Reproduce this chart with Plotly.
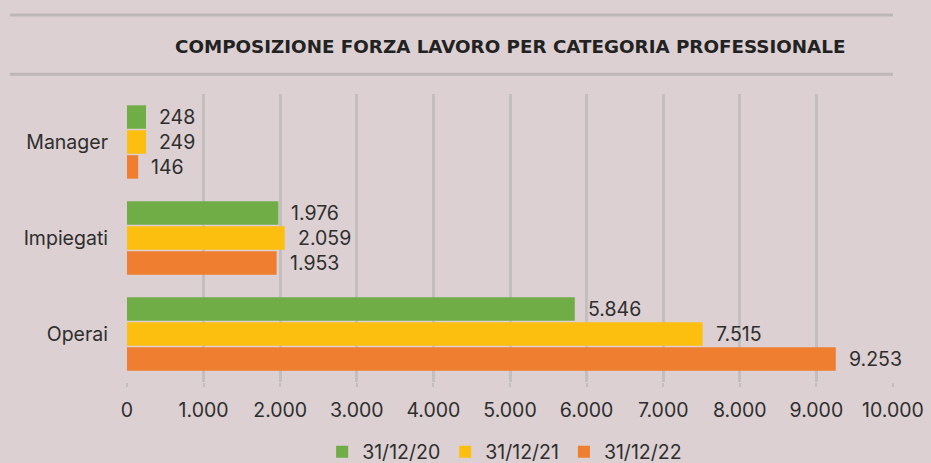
import plotly.graph_objects as go

categories = ["Manager", "Impiegati", "Operai"]
series_names = ["31/12/20", "31/12/21", "31/12/22"]
values_2020 = [248, 1976, 5846]
values_2021 = [249, 2059, 7515]
values_2022 = [146, 1953, 9253]
tick_values = [0, 1000, 2000, 3000, 4000, 5000, 6000, 7000, 8000, 9000, 10000]
tick_labels = ["0", "1.000", "2.000", "3.000", "4.000", "5.000", "6.000",
               "7.000", "8.000", "9.000", "10.000"]
title_text = "COMPOSIZIONE FORZA LAVORO PER CATEGORIA PROFESSIONALE"

colors = ["#70ad47", "#fdbf0f", "#ef7e31"]
bg = "#dcd0d2"
grid = "#c3bfbf"
font_family = "Inter, 'DejaVu Sans', sans-serif"
text_color = "#2e2e2e"
fsize = 19.5


def fmt(v):
    return f"{v:,}".replace(",", ".")


fig = go.Figure()
all_series = [values_2020, values_2021, values_2022]
for name, vals, col in zip(series_names, all_series, colors):
    fig.add_trace(go.Bar(
        y=categories, x=vals, name=name, orientation="h",
        marker=dict(color=col, line=dict(width=0)),
    ))

# value labels to the right of each bar
slot_px = 25
for i, vals in enumerate(all_series):
    yshift = (1 - i) * slot_px
    for cat, v in zip(categories, vals):
        fig.add_annotation(
            x=v, y=cat, text=fmt(v), showarrow=False,
            xanchor="left", yanchor="middle", xshift=11, yshift=yshift,
            font=dict(family=font_family, size=fsize, color=text_color),
        )

# horizontal rules framing the title
for yp in [1.274, 1.069]:
    fig.add_shape(type="line", xref="paper", yref="paper",
                  x0=-0.153, x1=1.0, y0=yp, y1=yp,
                  line=dict(color="#bdb7b8", width=3))

fig.update_layout(
    width=931, height=463,
    paper_bgcolor=bg, plot_bgcolor=bg,
    margin=dict(l=127, r=38, t=94, b=81, autoexpand=False),
    barmode="group", bargap=0.22, bargroupgap=0.06,
    font=dict(family=font_family, size=fsize, color=text_color),
    title=dict(text=f"<b>{title_text}</b>", x=0.548, xanchor="center",
               y=1 - 47 / 463, yanchor="middle",
               font=dict(family="'DejaVu Sans', sans-serif", size=18.3, color="#222222")),
    legend=dict(orientation="h", x=0.493, xanchor="center",
                yref="container", y=11 / 463, yanchor="middle",
                font=dict(size=fsize), itemwidth=30, traceorder="normal",
                bgcolor="rgba(0,0,0,0)"),
    showlegend=True,
)
fig.update_xaxes(
    range=[0, 10000], tickvals=tick_values, ticktext=tick_labels,
    showgrid=True, gridcolor=grid, gridwidth=3, zeroline=False,
    ticks="outside", ticklen=4, tickcolor=grid, tickwidth=2,
    ticklabelstandoff=7, showline=False, automargin=False,
    tickfont=dict(size=fsize),
)
fig.update_yaxes(
    autorange="reversed", showgrid=False, ticks="", ticklabelstandoff=18,
    tickfont=dict(size=fsize), showline=False, automargin=False,
)

fig.write_html("out.html")
